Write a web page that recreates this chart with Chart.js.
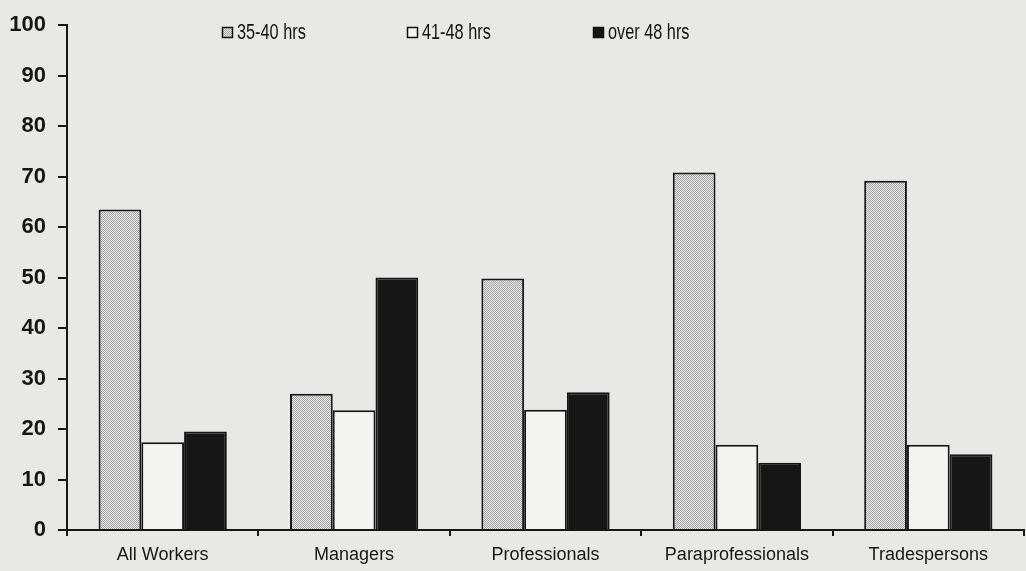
<!DOCTYPE html>
<html lang="en">
<head>
  <meta charset="UTF-8" />
  <title>Hours worked by occupation</title>
  <script src="https://cdn.jsdelivr.net/npm/chart.js"></script>
  <style>
    body {
      margin: 0;
      background: #e8e9e6;
    }

    canvas {
      display: block;
    }
  </style>
</head>
<body>
  <canvas id="hoursChart" width="1026" height="571"></canvas>

  <script>
    // data
    const categories = ['All Workers', 'Managers', 'Professionals', 'Paraprofessionals', 'Tradespersons'];
    const seriesNames = ['35-40 hrs', '41-48 hrs', 'over 48 hrs'];
    const hrs35to40 = [63.5, 27, 49.8, 70.8, 69.2];
    const hrs41to48 = [17.4, 23.7, 23.8, 16.9, 16.9];
    const hrsOver48 = [19.5, 50, 27.3, 13.3, 15.0];
    const yTicks = [0, 10, 20, 30, 40, 50, 60, 70, 80, 90, 100];

    const FONT = '"Liberation Sans", Arial, sans-serif';

    // dotted grey fill like the printed screen
    function dotPattern() {
      const c = document.createElement('canvas');
      c.width = 2;
      c.height = 2;
      const g = c.getContext('2d');
      g.fillStyle = '#e4e4e4';
      g.fillRect(0, 0, 2, 2);
      g.fillStyle = '#aaaaaa';
      g.fillRect(0, 0, 1, 1);
      g.fillRect(1, 1, 1, 1);
      return g.createPattern(c, 'repeat');
    }

    // legend sits inside the plot, so draw it by hand
    const insideLegend = {
      id: 'insideLegend',
      afterDraw(chart) {
        const ctx = chart.ctx;
        const xs = [222, 407, 593];
        ctx.save();
        chart.data.datasets.forEach((ds, i) => {
          const x = xs[i];
          ctx.fillStyle = ds.legendFill;
          ctx.fillRect(x, 27, 11, 11);
          ctx.lineWidth = 1.5;
          ctx.strokeStyle = '#111';
          ctx.strokeRect(x + 0.5, 27.5, 10, 10);
          ctx.save();
          ctx.translate(x + 15, 33);
          ctx.scale(0.74, 1);
          ctx.font = '22px ' + FONT;
          ctx.fillStyle = '#111';
          ctx.textBaseline = 'middle';
          ctx.fillText(ds.label, 0, 0);
          ctx.restore();
        });
        ctx.restore();
      }
    };

    const grey = dotPattern();

    new Chart(document.getElementById('hoursChart'), {
      type: 'bar',
      data: {
        labels: categories,
        datasets: [
          { label: seriesNames[0], data: hrs35to40, backgroundColor: grey, legendFill: grey },
          { label: seriesNames[1], data: hrs41to48, backgroundColor: '#f4f4f2', legendFill: '#f4f4f2' },
          { label: seriesNames[2], data: hrsOver48, backgroundColor: '#161616', legendFill: '#161616' }
        ].map(d => Object.assign(d, { borderColor: '#161616', borderWidth: 2 }))
      },
      options: {
        responsive: false,
        animation: false,
        categoryPercentage: 0.67,
        barPercentage: 1,
        layout: { padding: { top: 13, right: 2, left: 0, bottom: 0 } },
        plugins: {
          legend: { display: false },
          tooltip: { enabled: false }
        },
        scales: {
          x: {
            grid: { drawOnChartArea: false, color: '#161616', lineWidth: 2, tickLength: 6, offset: true },
            border: { color: '#161616', width: 2 },
            ticks: { color: '#161616', font: { family: FONT, size: 18 }, padding: 8 },
            afterFit(axis) { axis.height = 41; }
          },
          y: {
            min: 0,
            max: 100,
            afterBuildTicks(axis) { axis.ticks = yTicks.map(v => ({ value: v })); },
            grid: { drawOnChartArea: false, color: '#161616', lineWidth: 2, tickLength: 9 },
            border: { color: '#161616', width: 2 },
            ticks: { color: '#161616', font: { family: FONT, size: 22, weight: 'bold' }, padding: 12 },
            afterFit(axis) { axis.width = 67; }
          }
        }
      },
      plugins: [insideLegend]
    });
  </script>
</body>
</html>
